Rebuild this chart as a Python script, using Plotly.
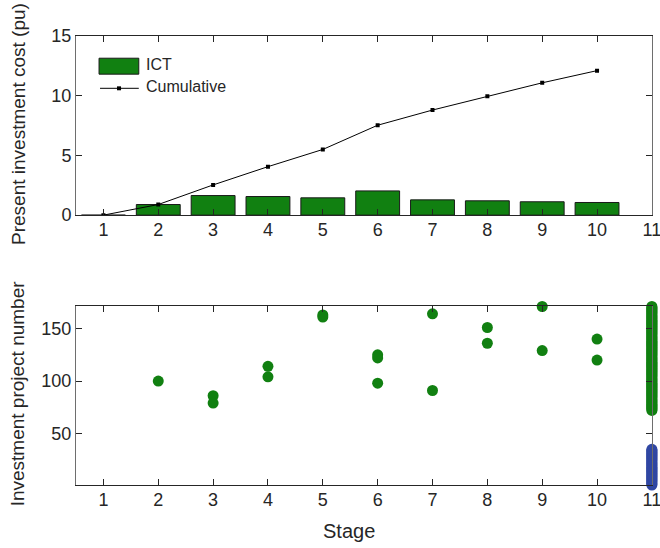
import plotly.graph_objects as go

# ---------------- data ----------------
stages = [1, 2, 3, 4, 5, 6, 7, 8, 9, 10]
ict_cost = [0.0, 0.89, 1.64, 1.56, 1.45, 2.03, 1.28, 1.20, 1.12, 1.06]
cumulative = [0.0, 0.89, 2.53, 4.06, 5.50, 7.53, 8.80, 9.95, 11.08, 12.10]

invest_stage = [2, 3, 3, 4, 4, 5, 5, 6, 6, 6, 7, 7, 8, 8, 9, 9, 10, 10]
invest_project = [100, 86, 79, 114, 104, 163, 161, 125, 122, 98, 164, 91,
                  151, 136, 171, 129, 140, 120]

final_stage = 11
remaining_green = [72, 73, 74, 75, 76, 77, 78, 79, 80, 81, 82, 83, 84, 85, 86,
                   87, 88, 89, 90, 91, 92, 93, 94, 95, 96, 97, 98, 99, 100,
                   101, 102, 103, 104, 105, 106, 107, 108, 109, 110, 111, 112,
                   113, 114, 115, 116, 117, 118, 119, 120, 121, 122, 123, 124,
                   125, 126, 127, 128, 129, 130, 131, 132, 133, 134, 135, 136,
                   137, 138, 139, 140, 141, 142, 143, 144, 145, 146, 147, 148,
                   149, 150, 151, 152, 153, 154, 155, 156, 157, 158, 159, 160,
                   161, 162, 163, 164, 165, 166, 167, 168, 169, 170, 171]
remaining_blue = [1, 2, 3, 4, 5, 6, 7, 8, 9, 10, 11, 12, 13, 14, 15, 16, 17,
                  18, 19, 20, 21, 22, 23, 24, 25, 26, 27, 28, 29, 30, 31, 32,
                  33, 34, 35]

x_ticks = [1, 2, 3, 4, 5, 6, 7, 8, 9, 10, 11]

# ---------------- styles ----------------
GREEN = "#118011"
BLUE = "#3047a3"
TXT = "#262626"
FONT = "Liberation Sans, Arial, sans-serif"

fig = go.Figure()

fig.add_trace(go.Bar(x=stages, y=ict_cost, width=0.8, name="ICT",
                     marker=dict(color=GREEN, line=dict(color="#1a1a1a", width=1)),
                     xaxis="x", yaxis="y", showlegend=False))
fig.add_trace(go.Scatter(x=stages, y=cumulative, mode="lines+markers", name="Cumulative",
                         line=dict(color="black", width=1),
                         marker=dict(symbol="square", size=4, color="black"),
                         xaxis="x", yaxis="y", showlegend=False))

fig.add_trace(go.Scatter(x=invest_stage, y=invest_project, mode="markers",
                         marker=dict(color=GREEN, size=11), cliponaxis=False,
                         xaxis="x2", yaxis="y2", showlegend=False))
fig.add_trace(go.Scatter(x=[final_stage] * len(remaining_green), y=remaining_green,
                         mode="markers", marker=dict(color=GREEN, size=11),
                         cliponaxis=False, xaxis="x2", yaxis="y2", showlegend=False))
fig.add_trace(go.Scatter(x=[final_stage] * len(remaining_blue), y=remaining_blue,
                         mode="markers", marker=dict(color=BLUE, size=11),
                         cliponaxis=False, xaxis="x2", yaxis="y2", showlegend=False))

xcommon = dict(range=[0.5, 11.002], tickvals=x_ticks, ticks="inside", ticklen=6,
               tickcolor=TXT, showline=True, linecolor=TXT, linewidth=1,
               mirror="ticks", showgrid=False, zeroline=False, automargin=False,
               tickfont=dict(size=18, color=TXT, family=FONT),
               ticklabelstandoff=-2, ticklabeloverflow="allow")
ycommon = dict(ticks="inside", ticklen=6, tickcolor=TXT, showline=True,
               linecolor="#6e6e6e", linewidth=1, mirror="ticks", showgrid=False,
               zeroline=False, automargin=False,
               tickfont=dict(size=18, color=TXT, family=FONT),
               ticklabelstandoff=0)

fig.update_layout(
    width=660, height=548,
    margin=dict(l=76, r=8, t=36, b=63),
    plot_bgcolor="white", paper_bgcolor="white",
    font=dict(family=FONT, color=TXT, size=16),
    xaxis=dict(**xcommon, domain=[0, 1], anchor="y"),
    yaxis=dict(**ycommon, domain=[0.601, 1], anchor="x", range=[0, 15],
               tickvals=[0, 5, 10, 15]),
    xaxis2=dict(**xcommon, domain=[0, 1], anchor="y2"),
    yaxis2=dict(**ycommon, domain=[0, 0.3987], anchor="x2", range=[1, 171.5],
                tickvals=[50, 100, 150]),
)

# axis titles
fig.add_annotation(xref="paper", yref="paper", x=-0.100, y=0.805,
                   text="Present investment cost (pu)", textangle=-90,
                   showarrow=False, xanchor="center", yanchor="middle",
                   font=dict(size=19, color=TXT, family=FONT))
fig.add_annotation(xref="paper", yref="paper", x=-0.100, y=0.205,
                   text="Investment project number", textangle=-90,
                   showarrow=False, xanchor="center", yanchor="middle",
                   font=dict(size=19, color=TXT, family=FONT))
fig.add_annotation(xref="paper", yref="paper", x=0.4748, y=-0.1024,
                   text="Stage", showarrow=False, xanchor="center", yanchor="middle",
                   font=dict(size=20, color=TXT, family=FONT))

# custom legend (top panel)
fig.add_shape(type="rect", xref="x domain", yref="y domain",
              x0=0.040, x1=0.109, y0=0.787, y1=0.876,
              fillcolor=GREEN, line=dict(color="#1a1a1a", width=1))
fig.add_shape(type="line", xref="x domain", yref="y domain",
              x0=0.0417, x1=0.109, y0=0.708, y1=0.708,
              line=dict(color="black", width=1))
fig.add_shape(type="rect", xref="x domain", yref="y domain",
              x0=0.0712, x1=0.0782, y0=0.697, y1=0.719,
              fillcolor="black", line=dict(color="black", width=0))
fig.add_annotation(xref="x domain", yref="y domain", x=0.118, y=0.843,
                   text="ICT", showarrow=False, xanchor="left", yanchor="middle",
                   font=dict(size=16, color=TXT, family=FONT))
fig.add_annotation(xref="x domain", yref="y domain", x=0.118, y=0.72,
                   text="Cumulative", showarrow=False, xanchor="left", yanchor="middle",
                   font=dict(size=16, color=TXT, family=FONT))

# remove the default 8px page margin so the figure fills the window exactly
fig.write_html("out.html",
               config=dict(displayModeBar=False),
               post_script="document.body.style.margin='0';"
                           "document.body.style.overflow='hidden';")
